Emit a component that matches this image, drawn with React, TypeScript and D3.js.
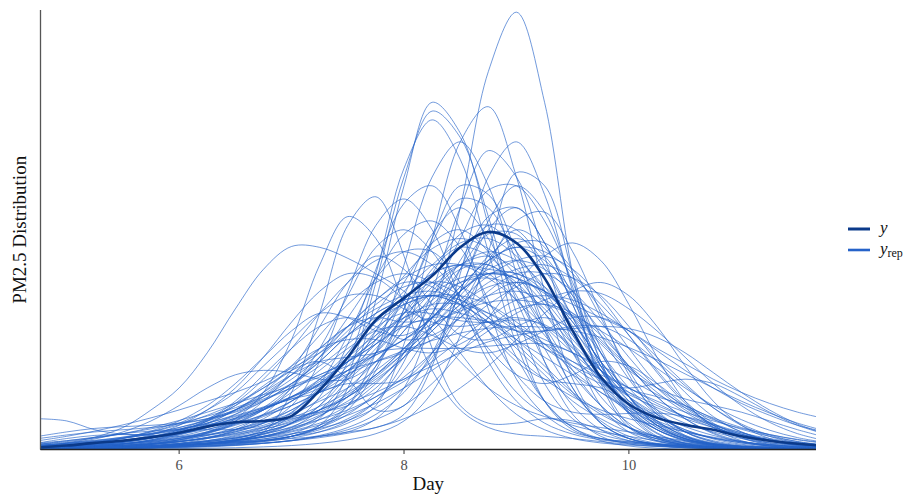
import React from "react";
import * as d3 from "d3";

// Evaluation grid (days) shared by every density curve
const dayGrid = [
  4.75, 5, 5.25, 5.5, 5.75, 6, 6.25, 6.5, 6.75, 7, 7.25, 7.5, 7.75, 8, 8.25,
  8.5, 8.75, 9, 9.25, 9.5, 9.75, 10, 10.25, 10.5, 10.75, 11, 11.25, 11.5, 11.75,
];

const xTicks = [6, 8, 10];

// Density of the observed data
const observedDensity = [
  .005, .009, .015, .02, .028, .038, .052, .062, .065, .076, .135, .21, .295, .345, .395,
  .46, .495, .47, .39, .27, .165, .103, .072, .056, .045, .03, .02, .013, .008,
];

// Densities of the posterior predictive replicates
const replicatedDensities = [
  [.002,.003,.004,.005,.007,.01,.013,.017,.02,.025,.03,.04,.07,.14,.3,.55,.86,.995,.79,.4,.15,.05,.02,.01,.005,.003,.002,.001,.001],
  [.003,.004,.005,.006,.008,.01,.012,.015,.02,.03,.055,.14,.34,.6,.79,.72,.51,.27,.11,.045,.025,.018,.013,.01,.007,.005,.003,.002,.001],
  [.002,.003,.004,.006,.008,.011,.014,.018,.024,.035,.07,.17,.38,.62,.77,.71,.53,.31,.15,.07,.035,.02,.013,.009,.006,.004,.003,.002,.001],
  [.001,.002,.003,.005,.008,.012,.018,.026,.04,.06,.1,.2,.4,.64,.75,.66,.45,.24,.11,.05,.025,.015,.01,.008,.006,.004,.003,.002,.001],
  [.001,.002,.003,.004,.006,.008,.011,.015,.02,.03,.04,.06,.1,.24,.48,.7,.78,.62,.36,.16,.06,.025,.012,.007,.005,.003,.002,.001,.001],
  [.001,.002,.002,.003,.004,.006,.008,.01,.014,.02,.03,.04,.05,.08,.19,.4,.62,.7,.58,.36,.16,.055,.02,.01,.006,.004,.003,.002,.001],
  [.002,.003,.004,.005,.007,.01,.013,.017,.022,.03,.05,.09,.18,.32,.48,.6,.58,.45,.28,.14,.06,.025,.012,.007,.004,.003,.002,.001,.001],
  [.001,.002,.003,.004,.006,.008,.011,.015,.02,.03,.05,.1,.22,.42,.62,.7,.6,.4,.2,.08,.03,.013,.007,.004,.003,.002,.001,.001,.001],
  [.001,.002,.003,.004,.005,.007,.01,.013,.018,.026,.04,.065,.11,.2,.36,.55,.68,.62,.44,.24,.1,.04,.018,.01,.006,.004,.002,.001,.001],
  [.002,.003,.004,.005,.007,.01,.013,.017,.024,.035,.05,.08,.13,.22,.34,.48,.59,.6,.52,.38,.23,.12,.055,.025,.012,.006,.003,.002,.001],
  [.001,.002,.003,.005,.007,.01,.015,.022,.04,.13,.31,.51,.575,.44,.23,.1,.06,.06,.07,.065,.045,.025,.012,.006,.003,.002,.001,.001,.001],
  [.001,.002,.003,.004,.006,.009,.013,.02,.035,.06,.12,.24,.41,.56,.6,.5,.32,.16,.08,.04,.025,.017,.012,.008,.005,.003,.002,.001,.001],
  [.002,.003,.005,.008,.012,.018,.027,.04,.06,.1,.2,.36,.51,.57,.5,.34,.2,.11,.06,.035,.022,.015,.01,.007,.005,.003,.002,.001,.001],
  [.002,.004,.006,.01,.016,.025,.04,.07,.13,.25,.42,.53,.48,.33,.18,.09,.05,.035,.03,.025,.018,.012,.008,.005,.003,.002,.001,.001,.001],
  [.008,.015,.028,.05,.09,.14,.22,.32,.41,.462,.46,.435,.4,.36,.3,.22,.14,.08,.045,.025,.015,.01,.007,.005,.003,.002,.001,.001,.001],
  [.07,.065,.045,.035,.035,.045,.06,.08,.11,.15,.2,.26,.31,.34,.35,.33,.29,.23,.17,.11,.07,.04,.025,.015,.01,.007,.005,.003,.002],
  [.001,.002,.003,.005,.008,.012,.018,.026,.04,.06,.09,.14,.2,.27,.33,.38,.4,.39,.36,.33,.3,.27,.23,.195,.16,.13,.105,.085,.07],
  [.001,.002,.003,.004,.006,.009,.013,.02,.03,.05,.09,.16,.25,.34,.4,.42,.4,.34,.26,.19,.15,.14,.15,.16,.15,.12,.085,.055,.035],
  [.002,.004,.006,.01,.015,.022,.032,.045,.065,.09,.13,.18,.22,.23,.23,.23,.235,.24,.24,.22,.18,.13,.09,.06,.04,.025,.015,.01,.006],
  [.003,.006,.01,.017,.028,.045,.07,.1,.14,.18,.2,.16,.09,.1,.2,.36,.5,.55,.47,.33,.19,.1,.05,.025,.012,.006,.003,.002,.001],
  [.004,.005,.006,.007,.008,.01,.014,.024,.045,.083,.142,.22,.31,.395,.457,.48,.457,.395,.31,.22,.142,.083,.045,.022,.012,.007,.005,.003,.002],
  [.002,.003,.004,.006,.008,.01,.013,.02,.038,.078,.138,.212,.278,.311,.309,.293,.289,.295,.284,.233,.156,.083,.036,.014,.007,.004,.003,.002,.001],
  [.002,.003,.005,.008,.012,.018,.028,.042,.06,.075,.085,.1,.14,.21,.31,.43,.51,.5,.42,.3,.18,.095,.045,.02,.01,.005,.003,.002,.001],
  [.003,.004,.006,.008,.011,.015,.02,.028,.04,.058,.085,.12,.165,.22,.28,.34,.395,.43,.44,.41,.345,.26,.175,.105,.055,.027,.012,.006,.003],
  [.003,.005,.008,.013,.022,.038,.065,.105,.16,.23,.31,.38,.43,.45,.42,.35,.27,.2,.16,.15,.14,.11,.075,.045,.024,.012,.006,.003,.002],
  [.004,.006,.01,.016,.026,.042,.068,.11,.17,.23,.28,.3,.28,.25,.26,.3,.35,.38,.36,.29,.2,.12,.065,.03,.014,.007,.004,.002,.001],
  [.004,.006,.009,.013,.019,.028,.04,.057,.08,.11,.15,.2,.25,.31,.355,.39,.4,.39,.355,.305,.245,.185,.13,.085,.052,.03,.016,.008,.004],
  [.001,.002,.003,.005,.007,.01,.014,.02,.028,.04,.056,.078,.105,.14,.18,.225,.27,.31,.34,.36,.355,.32,.27,.21,.15,.1,.062,.036,.02],
  [.006,.01,.016,.026,.042,.065,.1,.15,.21,.27,.31,.3,.27,.26,.3,.36,.4,.39,.33,.24,.15,.085,.045,.022,.01,.005,.003,.002,.001],
  [.001,.002,.003,.004,.006,.009,.014,.022,.036,.06,.1,.17,.27,.38,.47,.5,.45,.35,.23,.13,.065,.03,.014,.007,.004,.003,.002,.001,.001],
  [.01,.013,.017,.022,.028,.036,.046,.06,.078,.1,.13,.17,.22,.29,.36,.42,.45,.43,.37,.28,.18,.1,.05,.024,.012,.006,.003,.002,.001],
  [.002,.003,.005,.008,.013,.02,.032,.05,.075,.1,.13,.15,.15,.16,.22,.32,.43,.5,.46,.35,.22,.12,.055,.024,.01,.004,.002,.001,.001],
  [.003,.005,.008,.012,.018,.026,.038,.055,.078,.11,.15,.2,.27,.34,.4,.42,.41,.4,.37,.3,.22,.14,.08,.04,.02,.01,.005,.003,.002],
  [.002,.004,.006,.01,.016,.025,.04,.06,.09,.13,.18,.23,.27,.28,.26,.23,.22,.24,.27,.3,.3,.27,.21,.15,.095,.055,.03,.015,.008],
  [.005,.008,.012,.018,.027,.04,.06,.09,.13,.19,.26,.33,.38,.4,.38,.33,.27,.21,.16,.12,.09,.07,.055,.04,.028,.018,.011,.007,.004],
  [.001,.001,.002,.003,.004,.006,.009,.013,.02,.03,.045,.07,.11,.18,.28,.41,.53,.55,.47,.33,.19,.09,.038,.014,.005,.002,.001,.001,.001],
  [.008,.011,.015,.021,.029,.04,.054,.071,.092,.118,.148,.18,.215,.25,.285,.315,.335,.34,.33,.305,.27,.23,.185,.14,.1,.068,.044,.027,.016],
  [.002,.003,.005,.008,.012,.018,.026,.037,.052,.072,.098,.13,.17,.22,.28,.35,.42,.47,.47,.41,.3,.18,.09,.04,.017,.007,.003,.001,.001],
  [.002,.003,.005,.008,.013,.022,.037,.06,.095,.145,.21,.28,.34,.38,.37,.31,.23,.17,.15,.17,.2,.19,.15,.1,.055,.026,.011,.005,.002],
  [.001,.001,.002,.003,.004,.006,.008,.012,.018,.03,.055,.1,.19,.32,.47,.57,.55,.43,.27,.14,.06,.025,.01,.004,.002,.001,.001,.001,.001],
  [.002,.003,.004,.006,.008,.011,.015,.021,.03,.042,.06,.085,.12,.165,.22,.28,.33,.37,.4,.39,.35,.28,.2,.13,.075,.04,.02,.01,.005],
  [.012,.016,.021,.028,.037,.05,.066,.087,.112,.14,.17,.2,.24,.28,.3,.3,.29,.27,.24,.2,.16,.125,.095,.07,.05,.034,.022,.014,.009],
  [.002,.003,.005,.008,.013,.022,.038,.065,.11,.18,.28,.38,.44,.41,.33,.26,.25,.28,.3,.27,.19,.11,.055,.025,.01,.004,.002,.001,.001],
  [.006,.01,.016,.025,.035,.047,.057,.062,.064,.07,.09,.12,.17,.23,.3,.37,.43,.46,.43,.36,.26,.16,.085,.04,.018,.008,.004,.002,.001],
  [.003,.004,.006,.009,.013,.018,.025,.034,.046,.062,.082,.105,.13,.16,.19,.22,.245,.26,.27,.275,.28,.275,.255,.22,.175,.13,.09,.058,.035],
  [.002,.004,.007,.012,.02,.033,.05,.072,.095,.115,.13,.16,.22,.31,.41,.46,.44,.37,.27,.17,.1,.05,.024,.011,.005,.002,.001,.001,.001],
  [.001,.002,.003,.004,.006,.009,.014,.022,.034,.052,.078,.11,.155,.21,.27,.33,.38,.41,.42,.39,.33,.26,.18,.11,.06,.03,.014,.006,.003],
  [.01,.014,.02,.028,.04,.056,.078,.105,.14,.18,.23,.28,.32,.35,.36,.34,.3,.25,.19,.13,.085,.05,.028,.015,.008,.004,.002,.001,.001],
  [.001,.002,.003,.004,.006,.009,.013,.02,.03,.045,.068,.1,.15,.22,.31,.41,.49,.49,.41,.3,.2,.14,.12,.1,.07,.04,.02,.009,.004],
  [.001,.002,.003,.005,.008,.014,.025,.045,.08,.14,.23,.35,.46,.5,.45,.34,.22,.13,.08,.055,.04,.03,.02,.013,.008,.005,.003,.002,.001],
  [.001,.001,.002,.003,.004,.005,.007,.01,.014,.02,.03,.045,.068,.1,.15,.22,.3,.38,.44,.47,.43,.33,.21,.11,.05,.02,.008,.003,.001],
  [.008,.014,.024,.04,.065,.1,.14,.17,.18,.175,.16,.16,.2,.27,.35,.41,.42,.37,.28,.18,.1,.05,.024,.011,.005,.002,.001,.001,.001],
  [.002,.003,.005,.008,.012,.018,.027,.04,.06,.09,.13,.19,.26,.33,.38,.37,.33,.28,.23,.19,.16,.13,.1,.075,.055,.038,.025,.016,.01],
  [.001,.001,.001,.002,.003,.004,.006,.009,.014,.021,.032,.05,.08,.13,.22,.36,.52,.6,.54,.37,.2,.085,.03,.01,.004,.002,.001,.001,.001],
  [.006,.01,.016,.025,.04,.06,.09,.13,.19,.25,.31,.35,.35,.32,.29,.28,.29,.3,.28,.23,.16,.1,.055,.028,.013,.006,.003,.001,.001],
  [.001,.002,.003,.005,.008,.013,.02,.032,.05,.077,.115,.165,.23,.3,.37,.42,.44,.41,.34,.26,.18,.11,.062,.032,.015,.007,.003,.001,.001],
  [.001,.001,.002,.003,.004,.006,.008,.011,.015,.02,.027,.037,.05,.07,.1,.14,.19,.25,.31,.36,.38,.35,.28,.19,.11,.055,.025,.01,.004],
  [.012,.02,.028,.036,.042,.045,.045,.046,.055,.085,.15,.26,.39,.49,.52,.46,.34,.21,.11,.05,.02,.008,.003,.001,.001,.001,.001,.001,.001],
  [.004,.006,.009,.013,.018,.025,.034,.046,.062,.082,.11,.14,.18,.23,.28,.32,.35,.36,.34,.3,.24,.18,.14,.115,.1,.085,.065,.045,.028],
  [.003,.005,.008,.013,.021,.034,.053,.08,.12,.17,.23,.28,.3,.29,.3,.36,.44,.48,.44,.34,.22,.12,.06,.028,.012,.005,.002,.001,.001],
  [.003,.004,.006,.008,.01,.013,.017,.022,.028,.036,.048,.066,.095,.14,.21,.31,.42,.52,.54,.45,.31,.17,.08,.032,.012,.004,.002,.001,.001],
  [.006,.009,.014,.02,.03,.044,.064,.09,.125,.17,.22,.28,.34,.39,.42,.42,.39,.34,.28,.22,.165,.12,.08,.052,.032,.018,.01,.006,.003],
  [.015,.025,.032,.034,.032,.03,.033,.045,.07,.11,.16,.22,.29,.36,.42,.47,.48,.44,.36,.26,.16,.09,.045,.02,.008,.003,.001,.001,.001],
  [.002,.003,.004,.006,.009,.013,.018,.026,.036,.05,.068,.09,.12,.155,.2,.25,.3,.34,.35,.34,.31,.27,.225,.18,.14,.105,.078,.055,.04],
  [.001,.001,.002,.003,.005,.008,.012,.018,.028,.045,.075,.13,.22,.35,.49,.55,.48,.34,.2,.1,.045,.02,.009,.004,.002,.001,.001,.001,.001],
  [.003,.005,.008,.013,.022,.036,.058,.09,.13,.17,.2,.21,.22,.25,.3,.36,.4,.4,.36,.29,.2,.12,.065,.03,.013,.005,.002,.001,.001],
  [.004,.006,.01,.016,.026,.042,.065,.1,.145,.19,.23,.25,.25,.23,.22,.24,.28,.32,.33,.31,.26,.19,.12,.07,.036,.017,.008,.003,.001],
  [.002,.003,.004,.005,.007,.01,.014,.02,.03,.047,.075,.12,.19,.29,.4,.49,.51,.45,.34,.22,.12,.06,.028,.013,.006,.003,.002,.001,.001],
  [.01,.014,.019,.026,.035,.046,.06,.077,.097,.12,.145,.172,.2,.225,.248,.265,.276,.28,.278,.27,.255,.232,.204,.172,.14,.11,.083,.06,.042],
  [.004,.007,.012,.02,.033,.055,.09,.14,.21,.29,.36,.4,.39,.34,.27,.2,.14,.1,.075,.06,.05,.04,.03,.02,.013,.008,.005,.003,.002],
  [.001,.001,.001,.001,.002,.002,.003,.004,.006,.009,.014,.022,.036,.065,.13,.26,.45,.63,.6,.4,.2,.08,.027,.009,.003,.001,.001,.001,.001],
  [.002,.003,.005,.008,.013,.022,.036,.058,.09,.14,.21,.3,.39,.45,.45,.38,.27,.17,.11,.085,.08,.082,.083,.075,.058,.038,.022,.012,.006],
  [.02,.03,.042,.056,.072,.09,.11,.13,.155,.185,.22,.26,.3,.33,.35,.35,.33,.29,.24,.18,.13,.09,.06,.04,.026,.017,.011,.007,.004],
  [.012,.018,.026,.036,.05,.066,.085,.105,.125,.145,.17,.2,.24,.29,.34,.38,.39,.37,.32,.25,.18,.12,.075,.045,.026,.015,.008,.004,.002],
  [.004,.006,.01,.016,.025,.038,.055,.075,.095,.115,.14,.18,.24,.31,.38,.42,.42,.38,.31,.24,.18,.14,.11,.085,.065,.048,.034,.023,.015],
  [.03,.04,.048,.052,.055,.06,.07,.085,.11,.15,.2,.26,.31,.34,.35,.33,.29,.25,.21,.17,.13,.095,.065,.042,.026,.015,.008,.004,.002],
  [.002,.003,.005,.008,.012,.018,.026,.036,.05,.068,.09,.12,.16,.21,.27,.33,.37,.38,.36,.31,.25,.19,.14,.1,.072,.05,.034,.022,.014],
  [.006,.009,.013,.019,.027,.038,.052,.07,.092,.12,.155,.2,.25,.3,.33,.33,.31,.28,.25,.22,.19,.16,.125,.095,.068,.046,.03,.018,.01],
  [.008,.012,.018,.026,.036,.05,.068,.09,.115,.14,.165,.19,.215,.25,.3,.36,.41,.43,.41,.35,.27,.19,.12,.07,.038,.019,.009,.004,.002],
  [.001,.002,.003,.005,.008,.013,.02,.03,.045,.065,.09,.125,.17,.23,.3,.37,.43,.46,.45,.4,.32,.23,.15,.095,.058,.035,.021,.012,.007],
  [.015,.02,.027,.036,.047,.06,.076,.095,.12,.15,.19,.24,.29,.33,.35,.34,.31,.27,.23,.2,.17,.14,.105,.075,.05,.032,.019,.011,.006],
  [.005,.008,.012,.018,.026,.036,.05,.068,.09,.12,.16,.21,.26,.3,.32,.31,.29,.27,.27,.28,.28,.25,.2,.145,.095,.058,.033,.018,.009],
  [.003,.005,.008,.013,.02,.03,.045,.065,.09,.12,.15,.18,.2,.22,.25,.3,.36,.4,.4,.36,.29,.21,.14,.09,.056,.035,.022,.014,.009],
  [.025,.033,.04,.045,.05,.058,.07,.09,.12,.16,.21,.27,.33,.37,.38,.35,.3,.24,.18,.125,.08,.05,.03,.018,.01,.006,.003,.002,.001],
];

const W = 916;
const H = 494;
const plot = { left: 40.5, right: 816, top: 10, bottom: 449.5 };

const x = d3.scaleLinear().domain([4.767, 11.664]).range([plot.left, plot.right]);
const y = d3.scaleLinear().domain([0, 1]).range([plot.bottom, plot.top]);

const densityLine = d3
  .line<number>()
  .x((_, i) => x(dayGrid[i]))
  .y((d) => y(d))
  .curve(d3.curveCatmullRom.alpha(0.5));

const serif = "'Liberation Serif', 'Times New Roman', serif";
const repColor = "#2563c9";
const obsColor = "#0b3a8a";

export default function App() {
  return (
    <svg
      width={W}
      height={H}
      style={{ position: "absolute", left: 0, top: 0, background: "#fff" }}
      fontFamily={serif}
    >
      <defs>
        <clipPath id="panel">
          <rect x={plot.left} y={plot.top - 2} width={plot.right - plot.left} height={plot.bottom - plot.top + 2} />
        </clipPath>
      </defs>

      <g clipPath="url(#panel)">
        {replicatedDensities.map((d, i) => (
          <path
            key={i}
            d={densityLine(d) ?? ""}
            fill="none"
            stroke={repColor}
            strokeOpacity={0.72}
            strokeWidth={0.9}
          />
        ))}
        <path d={densityLine(observedDensity) ?? ""} fill="none" stroke={obsColor} strokeWidth={2.6} />
      </g>

      {/* axes */}
      <line x1={plot.left} x2={plot.left} y1={plot.top} y2={plot.bottom} stroke="#555" strokeWidth={1.3} />
      <line x1={plot.left} x2={plot.right} y1={plot.bottom} y2={plot.bottom} stroke="#222" strokeWidth={1.5} />
      {xTicks.map((t) => (
        <g key={t} transform={`translate(${x(t)},${plot.bottom})`}>
          <line y1={0} y2={4.5} stroke="#333" strokeWidth={1} />
          <text y={20} textAnchor="middle" fontSize={14.5} fill="#4d4d4d">
            {t}
          </text>
        </g>
      ))}

      <text x={(plot.left + plot.right) / 2} y={490} textAnchor="middle" fontSize={19} fill="#111">
        Day
      </text>
      <text
        transform={`translate(26,${(plot.top + plot.bottom) / 2}) rotate(-90)`}
        textAnchor="middle"
        fontSize={19}
        fill="#111"
      >
        PM2.5 Distribution
      </text>

      {/* legend */}
      <g>
        <line x1={848} x2={870} y1={229} y2={229} stroke={obsColor} strokeWidth={3} />
        <text x={880} y={233} fontSize={17} fontStyle="italic" fill="#111">
          y
        </text>
        <line x1={848} x2={870} y1={250} y2={250} stroke={repColor} strokeWidth={2.6} />
        <text x={880} y={254} fontSize={17} fill="#111">
          <tspan fontStyle="italic">y</tspan>
          <tspan fontSize={12} dy={3}>rep</tspan>
        </text>
      </g>
    </svg>
  );
}
